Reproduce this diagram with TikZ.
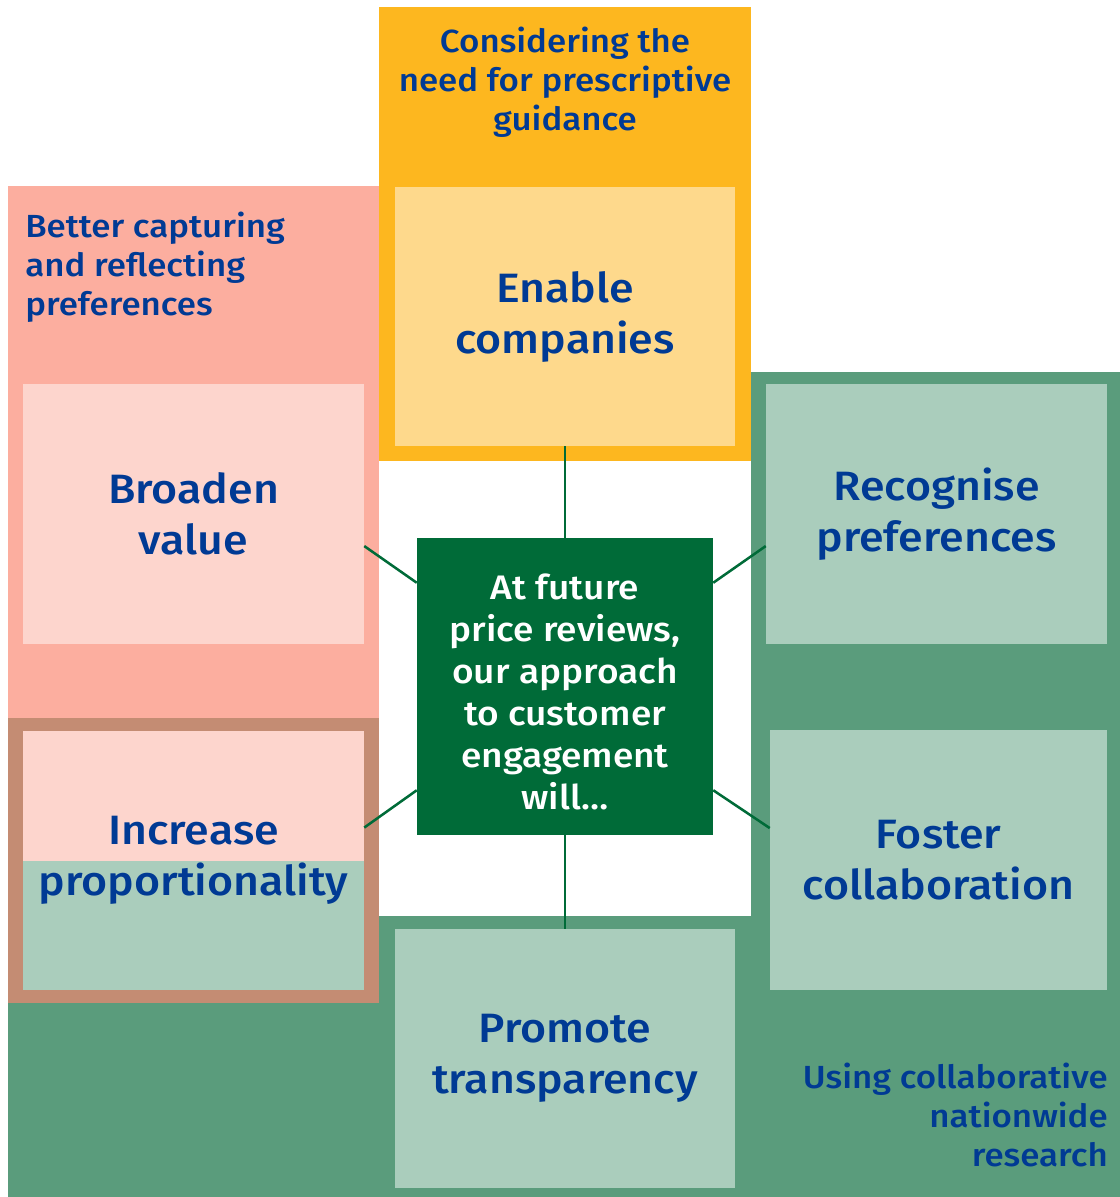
\documentclass[tikz,border=0pt]{standalone}
\usepackage{fontspec}
\setmainfont{Fira Sans Medium}[FakeStretch=1.09]
\usetikzlibrary{calc}

\definecolor{amber}{HTML}{FDB71F}
\definecolor{amberlight}{HTML}{FED98C}
\definecolor{salmon}{HTML}{FCAE9F}
\definecolor{salmonlight}{HTML}{FDD5CD}
\definecolor{clay}{HTML}{C48C73}
\definecolor{sage}{HTML}{5A9C7C}
\definecolor{sagelight}{HTML}{AACDBC}
\definecolor{forest}{HTML}{006B38}
\definecolor{navy}{HTML}{003A94}

\tikzset{
  big/.style={font=\fontsize{30.75pt}{38.25pt}\selectfont, text=navy, align=center},
  small/.style={font=\fontsize{24pt}{29.25pt}\selectfont, text=navy, inner sep=0pt},
  tile/.style={minimum width=#1*0.75pt, minimum height=194.5pt, inner sep=0pt},
  link/.style={draw=forest, line width=1.9pt},
}

\begin{document}
\begin{tikzpicture}[x=0.75pt, y=-0.75pt]
  \useasboundingbox (0,0) rectangle (1120,1197);

  % coloured regions behind the tiles
  \fill[sage] (751,372) -- (1120,372) -- (1120,1197) -- (8,1197) -- (8,916) -- (751,916) -- cycle;
  \fill[amber] (379,7) rectangle (751,461);
  \fill[salmon] (8,186) rectangle (379,718);
  \fill[clay] (8,718) rectangle (379,1003);

  % tile split between the two themes
  \fill[salmonlight] (23,731) rectangle (364,861);
  \fill[sagelight] (23,861) rectangle (364,990);

  % theme captions
  \node[small, align=center] (capG) at (565,82) {Considering the\\need for prescriptive\\guidance};
  \node[small, align=left, anchor=west] (capP) at (25,267) {Better capturing\\and reflecting\\preferences};
  \node[small, align=right, anchor=east] (capS) at (1108,1115) {Using collaborative\\nationwide\\research};

  % tiles
  \node[tile=340, fill=amberlight, big] (enable) at (565,316.5) {Enable\\companies};
  \node[tile=341, fill=salmonlight, big] (broaden) at (193.5,514) {Broaden\\value};
  \node[tile=341, fill=sagelight, big] (recognise) at (936.5,514) {Recognise\\preferences};
  \node[tile=341, big] (increase) at (193.5,860.5) {Increase\\proportionality};
  \node[tile=337, fill=sagelight, big] (foster) at (938.5,860) {Foster\\collaboration};
  \node[tile=340, fill=sagelight, big] (promote) at (565,1058.5) {Promote\\transparency};

  % central statement
  \node[fill=forest, minimum width=222pt, minimum height=222.75pt, inner sep=0pt] (hub) at (565,686.5) {};
  \node[text=white, align=center, inner sep=0pt, font=\fontsize{25.5pt}{31.5pt}\selectfont]
        (hubtext) at ($(hub.center)+(0,5)$)
        {At future\\price reviews,\\our approach\\to customer\\engagement\\will\ldots};

  % connectors
  \draw[link] (enable.south) -- (hub.north);
  \draw[link] (hub.south) -- (promote.north);
  \draw[link] ($(hub.north west)+(0,45)$) -- ($(broaden.north east)+(0,162)$);
  \draw[link] ($(hub.north east)+(0,45)$) -- ($(recognise.north west)+(0,162)$);
  \draw[link] ($(hub.south west)+(0,-45)$) -- ($(increase.north east)+(0,97)$);
  \draw[link] ($(hub.south east)+(0,-45)$) -- ($(foster.north west)+(0,98)$);
\end{tikzpicture}
\end{document}
